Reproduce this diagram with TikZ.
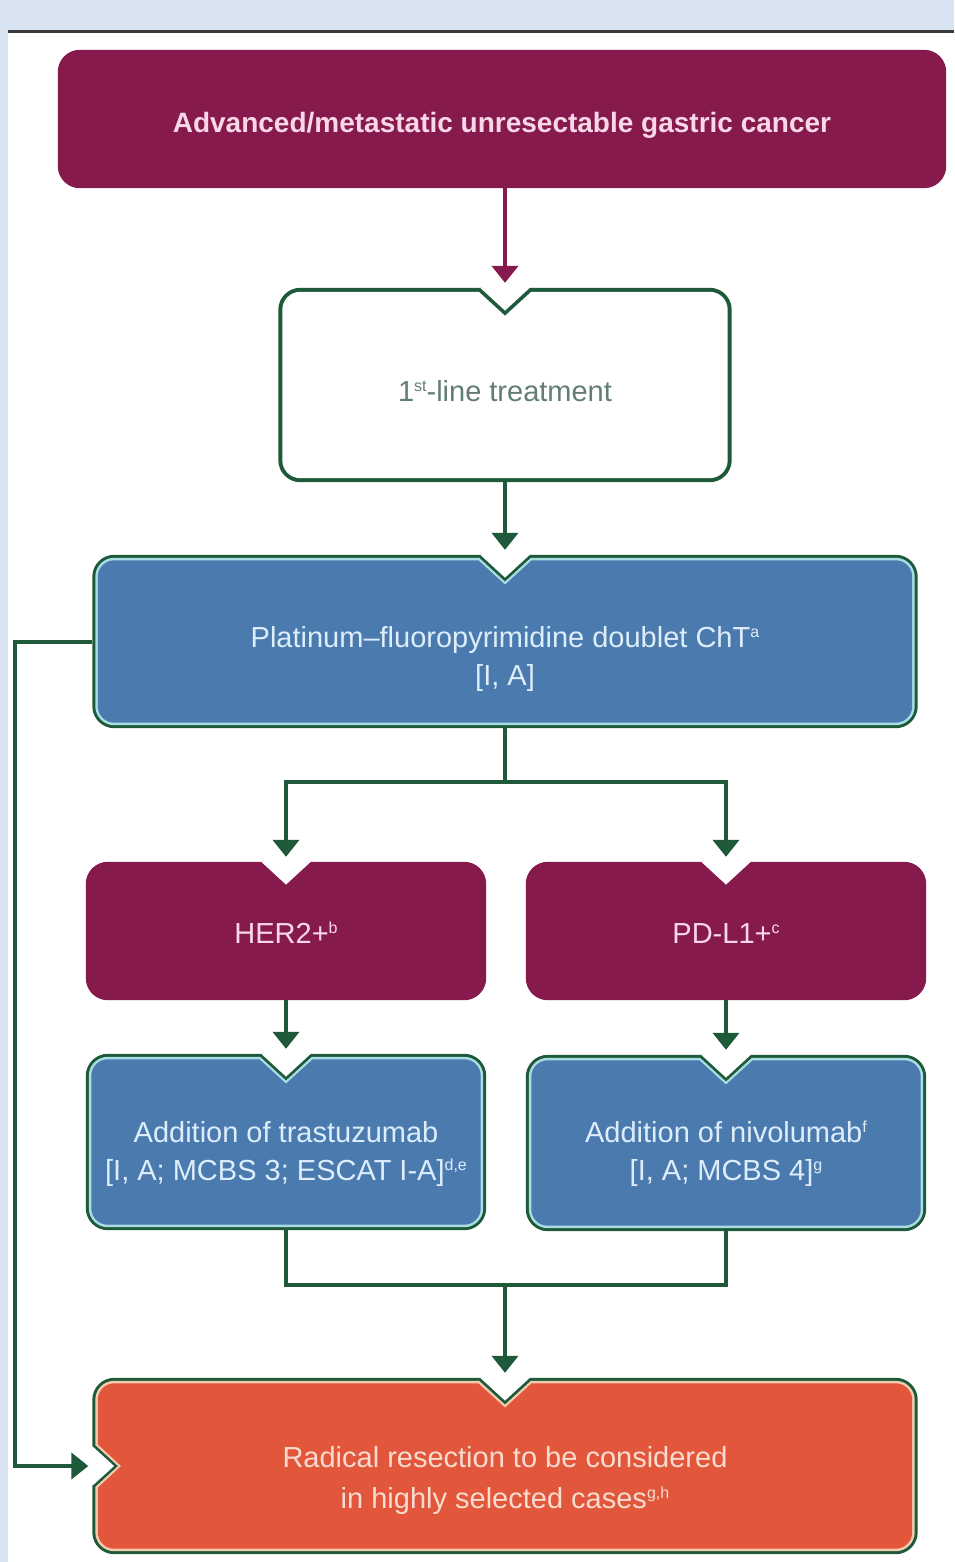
\documentclass[tikz,border=0pt]{standalone}
\usepackage{fontspec}
\setmainfont{Liberation Sans}
\usetikzlibrary{arrows.meta,calc}
\pgfdeclarelayer{back}
\pgfdeclarelayer{bg}
\pgfsetlayers{back,bg,main}
\definecolor{cBg}{HTML}{D8E4F2}
\definecolor{cMaroon}{HTML}{871A4C}
\definecolor{cBlue}{HTML}{4B7BAE}
\definecolor{cCyan}{HTML}{A9DCE3}
\definecolor{cGreen}{HTML}{1E5A3A}
\definecolor{cRed}{HTML}{E2573C}
\definecolor{cPeach}{HTML}{F4CBAE}
\definecolor{cPinkTxt}{HTML}{F8D7E8}
\definecolor{cBlueTxt}{HTML}{DDEDFB}
\definecolor{cRedTxt}{HTML}{F7DCCF}
\definecolor{cGrayTxt}{HTML}{627E71}
\definecolor{cTopLine}{HTML}{3A3A3A}
\newcommand\tb[2]{\raisebox{-#1pt}[0pt][0pt]{\begin{tabular}{@{}c@{}}#2\end{tabular}}}
\newcommand\sups[1]{\raisebox{10pt}{\fontsize{16}{16}\selectfont #1}}
% notched rounded box outline, inset #2, colour #3, type #4 (0 plain, 1 top notch, 2 top+left notch)
\newcommand\nshape[4]{%
  \def\ins{#2}%
  \ifnum#4>0
    \def\notchpart{-- ([xshift={-25pt-0.3*\ins pt},yshift=-\ins pt]#1.north) -- ([yshift={-23pt-1.25*\ins pt}]#1.north) -- ([xshift={25pt+0.3*\ins pt},yshift=-\ins pt]#1.north)}%
  \else\def\notchpart{}\fi
  \ifnum#4>1
    \def\leftpart{-- ([xshift=\ins pt,yshift=-40pt]#1.west) [sharp corners] -- ([xshift=\ins pt,yshift={-20pt-0.3*\ins pt}]#1.west) -- ([xshift={22pt+1.25*\ins pt}]#1.west) -- ([xshift=\ins pt,yshift={20pt+0.3*\ins pt}]#1.west) -- ([xshift=\ins pt,yshift=40pt]#1.west) [rounded corners={22pt-\ins pt}]}%
  \else\def\leftpart{}\fi
  \fill[#3] ([xshift=-45pt,yshift=-\ins pt]#1.north) [sharp corners]
    \notchpart
    -- ([xshift=45pt,yshift=-\ins pt]#1.north)
    [rounded corners={22pt-\ins pt}]
    -- ([xshift=-\ins pt,yshift=-\ins pt]#1.north east)
    -- ([xshift=-\ins pt,yshift=\ins pt]#1.south east)
    -- ([xshift=\ins pt,yshift=\ins pt]#1.south west)
    \leftpart
    -- ([xshift=\ins pt,yshift=-\ins pt]#1.north west) -- cycle;}
\begin{document}
\begin{tikzpicture}[x=1pt,y=-1pt,
  boxnode/.style={rectangle, inner sep=0pt, font=\fontsize{29}{38}\selectfont},
  conn/.style={draw=cGreen, line width=4pt, -{Triangle[width=26pt,length=17pt]}},
  plainline/.style={draw=cGreen, line width=4pt},
  marconn/.style={draw=cMaroon, line width=4.5pt, -{Triangle[width=26pt,length=17pt]}}]
\useasboundingbox (0,0) rectangle (954,1562);
\begin{pgfonlayer}{back}
  \fill[cBg] (0,0) rectangle (954,1562);
  \fill[white] (8,33) rectangle (954,1562);
  \draw[cTopLine, line width=3pt] (8,32) -- (954,32);
\end{pgfonlayer}

\node[boxnode, minimum width=888pt, minimum height=138pt, text=cPinkTxt, font=\fontsize{28}{34}\selectfont\bfseries] (top) at (502,119)
  {\tb{13}{Advanced/metastatic unresectable gastric cancer}};
\node[boxnode, minimum width=453pt, minimum height=194pt, text=cGrayTxt] (first) at (505,385)
  {\tb{15}{1\sups{st}-line treatment}};
\node[boxnode, minimum width=825pt, minimum height=173pt, text=cBlueTxt] (plat) at (505,641.5)
  {\tb{24}{Platinum–fluoropyrimidine doublet ChT\sups{a}\\\relax [I, A]}};
\node[boxnode, minimum width=400pt, minimum height=138pt, text=cPinkTxt] (her) at (286,931)
  {\tb{11}{HER2+\sups{b}}};
\node[boxnode, minimum width=400pt, minimum height=138pt, text=cPinkTxt] (pd) at (726,931)
  {\tb{11}{PD-L1+\sups{c}}};
\node[boxnode, minimum width=400pt, minimum height=176pt, text=cBlueTxt] (trast) at (286,1142)
  {\tb{18}{Addition of trastuzumab\\\relax [I, A; MCBS 3; ESCAT I-A]\sups{d,e}}};
\node[boxnode, minimum width=400pt, minimum height=176pt, text=cBlueTxt] (niv) at (726,1143)
  {\tb{17}{Addition of nivolumab\sups{f}\\\relax [I, A; MCBS 4]\sups{g}}};
\node[boxnode, minimum width=825pt, minimum height=176pt, text=cRedTxt, font=\fontsize{29}{41}\selectfont] (red) at (505,1466)
  {\tb{20}{Radical resection to be considered\\in highly selected cases\sups{g,h}}};

\begin{pgfonlayer}{bg}
  \nshape{top}{0}{cMaroon}{0}
  \nshape{first}{0}{cGreen}{1}
  \nshape{first}{4}{white}{1}
  \nshape{plat}{0}{cGreen}{1}
  \nshape{plat}{3}{cCyan}{1}
  \nshape{plat}{5.5}{cBlue}{1}
  \nshape{her}{0}{cMaroon}{1}
  \nshape{pd}{0}{cMaroon}{1}
  \nshape{trast}{0}{cGreen}{1}
  \nshape{trast}{3}{cCyan}{1}
  \nshape{trast}{5.5}{cBlue}{1}
  \nshape{niv}{0}{cGreen}{1}
  \nshape{niv}{3}{cCyan}{1}
  \nshape{niv}{5.5}{cBlue}{1}
  \nshape{red}{0}{cGreen}{2}
  \nshape{red}{3}{cPeach}{2}
  \nshape{red}{5.5}{cRed}{2}
\end{pgfonlayer}

\coordinate (lx) at (15,641.5);
\coordinate (j1) at (505,782);
\coordinate (j2) at (505,1285);

\draw[marconn] (top.south -| first.north) -- ([yshift=5pt]first.north);
\draw[conn] (first.south) -- ([yshift=5pt]plat.north);
\draw[conn] (plat.west) -- (lx) |- ([xshift=-4pt]red.west);
\draw[plainline] (plat.south) -- (j1);
\draw[conn] (j1) -| ([yshift=5pt]her.north);
\draw[conn] (j1) -| ([yshift=5pt]pd.north);
\draw[conn] (her.south) -- ([yshift=5pt]trast.north);
\draw[conn] (pd.south) -- ([yshift=5pt]niv.north);
\draw[plainline] (trast.south) |- (j2) -| (niv.south);
\draw[conn] (j2) -- ([yshift=5pt]red.north);
\end{tikzpicture}
\end{document}
